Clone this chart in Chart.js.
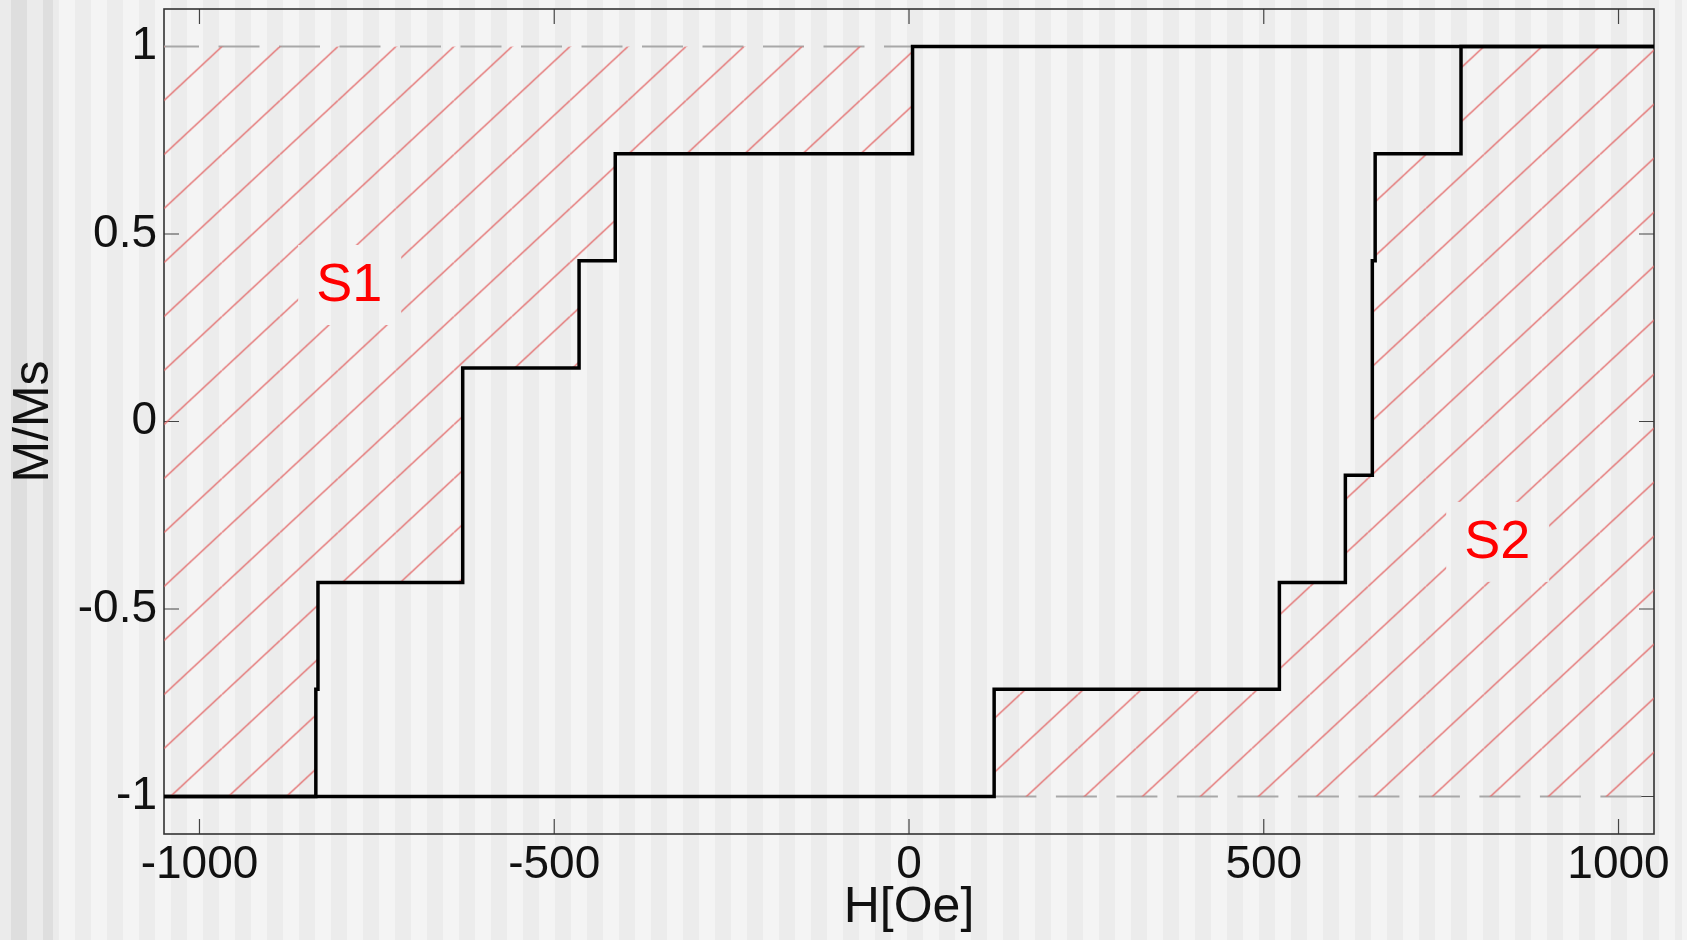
<!DOCTYPE html>
<html>
<head>
<meta charset="utf-8">
<script src="https://cdn.jsdelivr.net/npm/chart.js@4.4.1/dist/chart.umd.min.js"></script>
<style>
  html, body { margin: 0; padding: 0; }
  body {
    width: 1687px; height: 940px; overflow: hidden; position: relative;
    background: repeating-linear-gradient(to right, #f4f4f4 0 16px, #ececec 16px 32px);
    background-position: -5px 0;
  }
  #marge {
    position: absolute; left: 0; top: 0; width: 58px; height: 940px;
    background: repeating-linear-gradient(to right, #ebebeb 0 16px, #dedede 16px 32px);
    background-position: -5px 0;
  }
  canvas { position: absolute; left: 0; top: 0; }
</style>
</head>
<body>
<div id="marge"></div>
<canvas id="canva1" width="1687" height="940"></canvas>
<script>
// branche descendante (coins des marches, tracé en escalier)
const hDescente = [-1050, -836, -833, -629, -465, -414, 5, 1050];
const mDescente = [-1, -0.714, -0.429, 0.143, 0.429, 0.714, 1, 1];

// branche montante
const hMontee = [-1050, 120, 522, 615, 653, 657, 778, 1050];
const mMontee = [-1, -0.714, -0.429, -0.143, 0.429, 0.714, 1, 1];

// lignes pointillées de saturation
const niveaux = [1, -1];

// graduations et bornes des axes
const xTicks = [-1000, -500, 0, 500, 1000];
const yTicks = [-1, -0.5, 0, 0.5, 1];
const xLimites = [-1050, 1050];
const yLimites = [-1.1, 1.1];

// étiquettes des surfaces
const etiquettes = ['S1', 'S2'];
const etiquettesH = [-789, 829];
const etiquettesM = [0.364, -0.321];

const police = '"Liberation Sans", Arial, sans-serif';

function versPoints(hs, ms) {
    return hs.map((h, i) => ({ x: h, y: ms[i] }));
}

// motif de hachures rouges, calé sur le coin haut gauche du cadre (+ décalage)
function hachures(chart, decalage) {
    const area = chart.chartArea;
    if (!area) return 'rgba(0,0,0,0)';
    const w = 58, h = 54;
    const tuile = document.createElement('canvas');
    tuile.width = w; tuile.height = h;
    const c = tuile.getContext('2d');
    c.strokeStyle = 'rgba(226,100,100,0.85)';
    c.lineWidth = 1.5;
    [-w, 0, w].forEach(dx => {
        c.beginPath();
        c.moveTo(dx, h);
        c.lineTo(dx + w, 0);
        c.stroke();
    });
    const motif = chart.ctx.createPattern(tuile, 'repeat');
    const ox = chart.scales.x.getPixelForValue(xLimites[0]) + decalage;
    const oy = chart.scales.y.getPixelForValue(1);
    motif.setTransform(new DOMMatrix().translate(ox, oy));
    return motif;
}

// cadre + graduations vers l'intérieur
const cadrePlugin = {
    id: 'cadre',
    beforeDatasetsDraw(chart) {
        const { ctx, chartArea: a, scales: { x, y } } = chart;
        ctx.save();
        ctx.strokeStyle = '#444';
        ctx.lineWidth = 1.2;
        ctx.beginPath();
        xTicks.forEach(v => {
            const px = x.getPixelForValue(v);
            ctx.moveTo(px, a.bottom); ctx.lineTo(px, a.bottom - 15);
            ctx.moveTo(px, a.top); ctx.lineTo(px, a.top + 15);
        });
        yTicks.forEach(v => {
            const py = y.getPixelForValue(v);
            ctx.moveTo(a.left, py); ctx.lineTo(a.left + 15, py);
            ctx.moveTo(a.right, py); ctx.lineTo(a.right - 15, py);
        });
        ctx.stroke();
        ctx.strokeStyle = '#333';
        ctx.lineWidth = 1.6;
        ctx.strokeRect(a.left, a.top, a.width, a.height);
        ctx.restore();
    }
};

// S1 / S2 avec une réserve dans les hachures
const etiquettesPlugin = {
    id: 'etiquettes',
    afterDatasetsDraw(chart) {
        const { ctx, scales: { x, y } } = chart;
        ctx.save();
        ctx.font = '54px ' + police;
        ctx.textAlign = 'center';
        ctx.textBaseline = 'middle';
        etiquettes.forEach((txt, i) => {
            const px = x.getPixelForValue(etiquettesH[i]);
            const py = y.getPixelForValue(etiquettesM[i]);
            ctx.globalCompositeOperation = 'destination-out';
            ctx.fillRect(px - 51, py - 40, 103, 80);
            ctx.globalCompositeOperation = 'source-over';
            ctx.fillStyle = '#ff0000';
            ctx.fillText(txt, px, py + 1);
        });
        ctx.restore();
    }
};

const ctx = document.querySelector('#canva1');

new Chart(ctx, {
    type: 'line',
    data: {
        datasets: [
            {
                label: 'descente',
                data: versPoints(hDescente, mDescente),
                stepped: true,
                borderColor: '#000',
                borderWidth: 3.5,
                pointRadius: 0,
                fill: { value: 1 },
                backgroundColor: c => hachures(c.chart, 0)
            },
            {
                label: 'montee',
                data: versPoints(hMontee, mMontee),
                stepped: true,
                borderColor: '#000',
                borderWidth: 3.5,
                pointRadius: 0,
                fill: { value: -1 },
                backgroundColor: c => hachures(c.chart, -14)
            },
            {
                label: 'sat+',
                data: xLimites.map(h => ({ x: h, y: niveaux[0] })),
                borderColor: '#a8a8a8',
                borderWidth: 2,
                borderDash: [41, 19.5],
                borderDashOffset: 6,
                pointRadius: 0,
                fill: false
            },
            {
                label: 'sat-',
                data: xLimites.map(h => ({ x: h, y: niveaux[1] })),
                borderColor: '#a8a8a8',
                borderWidth: 2,
                borderDash: [41, 19.5],
                borderDashOffset: 15.6,
                pointRadius: 0,
                fill: false
            }
        ]
    },
    options: {
        responsive: false,
        animation: false,
        devicePixelRatio: 1,
        layout: { padding: { top: 9, right: 33, left: 0, bottom: 0 } },
        plugins: {
            legend: { display: false },
            tooltip: { enabled: false }
        },
        scales: {
            x: {
                type: 'linear',
                min: xLimites[0],
                max: xLimites[1],
                afterBuildTicks: s => { s.ticks = xTicks.map(v => ({ value: v })); },
                afterFit: s => { s.height = 106; s.paddingLeft = 0; s.paddingRight = 0; },
                grid: { display: false, drawTicks: false },
                border: { display: false },
                ticks: {
                    font: { family: police, size: 46 },
                    color: '#111',
                    padding: 4,
                    maxRotation: 0,
                    autoSkip: false,
                    callback: v => String(v)
                },
                title: {
                    display: true,
                    text: 'H[Oe]',
                    font: { family: police, size: 50 },
                    color: '#111',
                    padding: { top: 0, bottom: 2 }
                }
            },
            y: {
                type: 'linear',
                min: yLimites[0],
                max: yLimites[1],
                afterBuildTicks: s => { s.ticks = yTicks.map(v => ({ value: v })); },
                afterFit: s => { s.width = 164; s.paddingTop = 0; s.paddingBottom = 0; },
                grid: { display: false, drawTicks: false },
                border: { display: false },
                ticks: {
                    font: { family: police, size: 46 },
                    color: '#111',
                    padding: 7,
                    autoSkip: false,
                    callback: v => String(v)
                },
                title: {
                    display: true,
                    text: 'M/Ms',
                    font: { family: police, size: 50 },
                    color: '#111',
                    padding: { top: 4, bottom: 0 }
                }
            }
        }
    },
    plugins: [cadrePlugin, etiquettesPlugin]
});
</script>
</body>
</html>
